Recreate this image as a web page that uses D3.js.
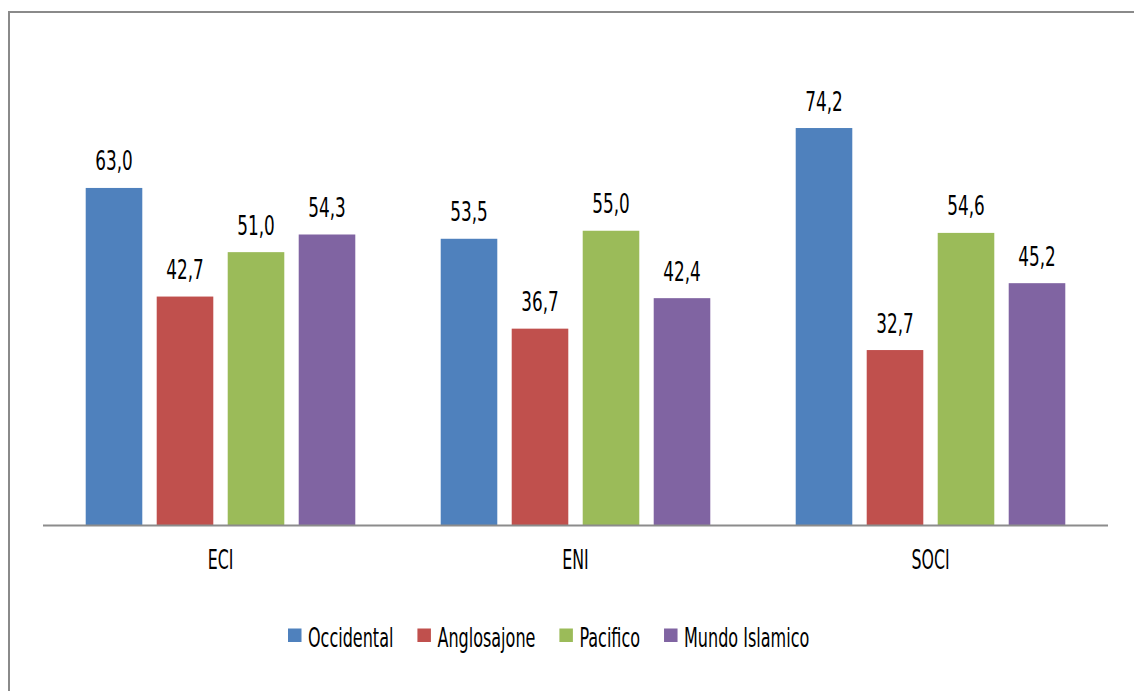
<!DOCTYPE html>
<html>
<head>
<meta charset="utf-8">
<script src="https://cdn.jsdelivr.net/npm/d3@7"></script>
<style>
  html, body { margin: 0; padding: 0; background: #fff; }
  svg { display: block; }
  text { font-family: "DejaVu Sans Condensed", "Liberation Sans Narrow", sans-serif; fill: #000; }
</style>
</head>
<body>
<script>
const categories = ["ECI", "ENI", "SOCI"];
const seriesNames = ["Occidental", "Anglosajone", "Pacifico", "Mundo Islamico"];
const seriesColors = ["#4F81BD", "#C0504D", "#9BBB59", "#8064A2"];
const occidental = [63.0, 53.5, 74.2];
const anglosajone = [42.7, 36.7, 32.7];
const pacifico = [51.0, 55.0, 54.6];
const mundoIslamico = [54.3, 42.4, 45.2];
const seriesValues = [occidental, anglosajone, pacifico, mundoIslamico];

const W = 1134, H = 691;
const svg = d3.select("body").append("svg").attr("width", W).attr("height", H);

// outer chart border (extends past the right/bottom edges)
svg.append("rect")
  .attr("x", 9).attr("y", 12).attr("width", 1200).attr("height", 800)
  .attr("fill", "none").attr("stroke", "#8a8a8a").attr("stroke-width", 2);

const x0 = d3.scaleBand().domain(categories).range([43, 1108])
  .paddingInner(0.2406).paddingOuter(0.1203);
const x1 = d3.scaleBand().domain(seriesNames).range([0, x0.bandwidth()])
  .paddingInner(0.203).paddingOuter(0);
const y = d3.scaleLinear().domain([0, 80]).range([525, 97]);

const fmt = v => d3.format(".1f")(v).replace(".", ",");

const groups = svg.append("g").selectAll("g")
  .data(categories).join("g")
  .attr("transform", d => `translate(${x0(d)},0)`);

groups.each(function(cat, ci) {
  const g = d3.select(this);
  seriesNames.forEach((s, si) => {
    const v = seriesValues[si][ci];
    g.append("rect")
      .attr("x", x1(s)).attr("y", y(v))
      .attr("width", x1.bandwidth()).attr("height", y(0) - y(v))
      .attr("fill", seriesColors[si]);
    g.append("text")
      .attr("transform", `translate(${x1(s) + x1.bandwidth() / 2},${y(v) - 17.5}) scale(0.72,1)`)
      .attr("text-anchor", "middle")
      .attr("font-size", 26)
      .text(fmt(v));
  });
});

// category axis line
const axis = svg.append("g").attr("transform", `translate(0,${y(0)})`)
  .call(d3.axisBottom(x0).tickSize(0).tickPadding(0));
axis.select(".domain").attr("stroke", "#8c8c8c").attr("stroke-width", 2)
  .attr("d", `M43,0.5H1108`);
axis.selectAll(".tick text").remove();
axis.selectAll(".tick").append("text")
  .attr("transform", "translate(0,44) scale(0.65,1)")
  .attr("text-anchor", "middle")
  .attr("font-size", 27)
  .attr("fill", "#000")
  .text(d => d);

// legend
const legend = svg.append("g");
const LS = 0.66;
let lx = 288;
seriesNames.forEach((s, i) => {
  legend.append("rect").attr("x", lx).attr("y", 628.5).attr("width", 13.5).attr("height", 13.5)
    .attr("fill", seriesColors[i]);
  const t = legend.append("text")
    .attr("transform", `translate(${lx + 20},646.5) scale(${LS},1)`)
    .attr("font-size", 27)
    .text(s);
  const w = t.node().getComputedTextLength() * LS;
  lx = lx + 20 + w + 24;
});
</script>
</body>
</html>
